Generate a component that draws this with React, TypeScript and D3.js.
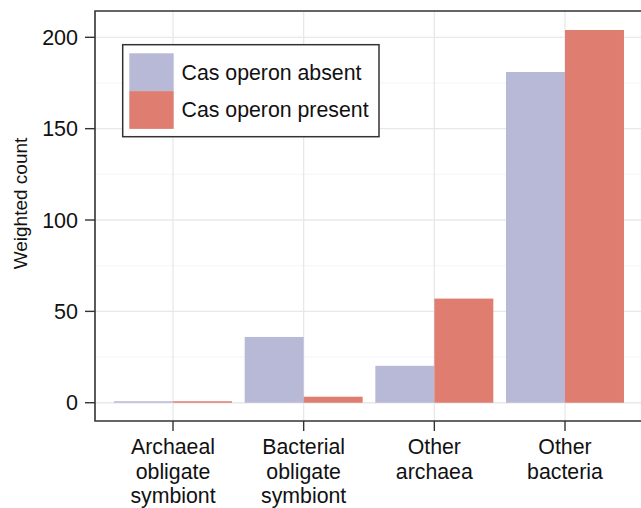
import React, { useEffect, useRef } from "react";
import * as d3 from "d3";

const categories = [
  ["Archaeal", "obligate", "symbiont"],
  ["Bacterial", "obligate", "symbiont"],
  ["Other", "archaea"],
  ["Other", "bacteria"],
];
const seriesNames = ["Cas operon absent", "Cas operon present"];
const absentValues = [0.8, 36, 20.2, 181];
const presentValues = [0.8, 3.3, 57, 204];
const yMajorTicks = [0, 50, 100, 150, 200];
const yMinorTicks = [25, 75, 125, 175];
const colors = ["#b8b8d7", "#e07d71"];

const App = () => {
  const svgRef = useRef<SVGSVGElement>(null);

  useEffect(() => {
    const width = 641;
    const height = 508;
    const margin = { top: 11, left: 95, bottom: 421, right: 643 };
    const font = "'Liberation Sans', Arial, Helvetica, sans-serif";

    const svg = d3.select(svgRef.current);
    svg.selectAll("*").remove();
    svg.attr("width", width).attr("height", height);

    const keys = categories.map((c) => c.join(" "));
    const x = d3.scalePoint().domain(keys).range([margin.left, margin.right]).padding(0.597);
    const step = x.step();
    const barW = step * 0.4515;
    const xInner = d3.scaleBand().domain(["0", "1"]).range([-barW, barW]);

    const y = d3.scaleLinear().domain([-10, 214.4]).range([margin.bottom, margin.top]);

    // gridlines
    const grid = svg.append("g");
    grid.selectAll(".minor")
      .data(yMinorTicks)
      .enter()
      .append("line")
      .attr("x1", margin.left).attr("x2", width)
      .attr("y1", (d) => y(d)).attr("y2", (d) => y(d))
      .attr("stroke", "#f4f4f4").attr("stroke-width", 1);
    grid.selectAll(".major")
      .data(yMajorTicks)
      .enter()
      .append("line")
      .attr("x1", margin.left).attr("x2", width)
      .attr("y1", (d) => y(d)).attr("y2", (d) => y(d))
      .attr("stroke", "#e8e8e8").attr("stroke-width", 1.3);
    grid.selectAll(".vert")
      .data(keys)
      .enter()
      .append("line")
      .attr("x1", (d) => x(d)!).attr("x2", (d) => x(d)!)
      .attr("y1", margin.top).attr("y2", margin.bottom)
      .attr("stroke", "#e8e8e8").attr("stroke-width", 1.3);

    // bars
    const series = [absentValues, presentValues];
    series.forEach((vals, si) => {
      svg.append("g")
        .selectAll("rect")
        .data(vals)
        .enter()
        .append("rect")
        .attr("x", (_, i) => x(keys[i])! + xInner(String(si))!)
        .attr("y", (d) => y(d))
        .attr("width", xInner.bandwidth())
        .attr("height", (d) => y(0) - y(d))
        .attr("fill", colors[si]);
    });

    // frame
    svg.append("path")
      .attr("d", `M${width + 2},${margin.top}H${margin.left}V${margin.bottom}H${width + 2}`)
      .attr("fill", "none")
      .attr("stroke", "#333")
      .attr("stroke-width", 1.6);

    // y axis ticks
    const yAxis = svg.append("g");
    yAxis.selectAll("line")
      .data(yMajorTicks)
      .enter()
      .append("line")
      .attr("x1", margin.left - 10).attr("x2", margin.left)
      .attr("y1", (d) => y(d)).attr("y2", (d) => y(d))
      .attr("stroke", "#333").attr("stroke-width", 1.4);
    yAxis.selectAll("text")
      .data(yMajorTicks)
      .enter()
      .append("text")
      .attr("x", margin.left - 17)
      .attr("y", (d) => y(d) + 7.5)
      .attr("text-anchor", "end")
      .style("font-family", font)
      .style("font-size", "21.5px")
      .attr("fill", "#111")
      .text((d) => d);

    // x axis ticks
    const xAxis = svg.append("g");
    xAxis.selectAll("line")
      .data(keys)
      .enter()
      .append("line")
      .attr("x1", (d) => x(d)!).attr("x2", (d) => x(d)!)
      .attr("y1", margin.bottom).attr("y2", margin.bottom + 10)
      .attr("stroke", "#333").attr("stroke-width", 1.4);
    categories.forEach((lines, i) => {
      const t = xAxis.append("text")
        .attr("x", x(keys[i])!)
        .attr("y", 454)
        .attr("text-anchor", "middle")
        .style("font-family", font)
        .style("font-size", "21.3px")
        .attr("fill", "#111");
      lines.forEach((ln, j) => {
        t.append("tspan").attr("x", x(keys[i])!).attr("dy", j === 0 ? 0 : 24.5).text(ln);
      });
    });

    // y label
    svg.append("text")
      .attr("transform", `translate(27,${203.5}) rotate(-90)`)
      .attr("text-anchor", "middle")
      .style("font-family", font)
      .style("font-size", "19px")
      .attr("fill", "#111")
      .text("Weighted count");

    // legend
    const lg = svg.append("g");
    lg.append("rect")
      .attr("x", 122.7).attr("y", 44.7)
      .attr("width", 256.3).attr("height", 92)
      .attr("fill", "white")
      .attr("stroke", "#333")
      .attr("stroke-width", 1.5);
    seriesNames.forEach((name, i) => {
      lg.append("rect")
        .attr("x", 129.3).attr("y", 53.3 + i * 37.8)
        .attr("width", 44.4).attr("height", 37.8)
        .attr("fill", colors[i]);
      lg.append("text")
        .attr("x", 181.5).attr("y", 80 + i * 36.5)
        .style("font-family", font)
        .style("font-size", "21.3px")
        .attr("fill", "#111")
        .text(name);
    });
  }, []);

  return (
    <div style={{ position: "absolute", left: 0, top: 0 }}>
      <svg ref={svgRef} style={{ display: "block" }}></svg>
    </div>
  );
};

export default App;
